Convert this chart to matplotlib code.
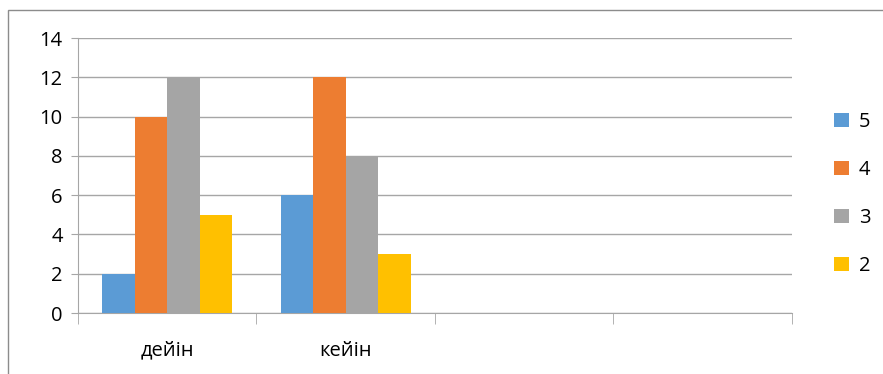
import matplotlib
import matplotlib.pyplot as plt
import numpy as np
from matplotlib.patches import Rectangle

matplotlib.use("Agg")

categories = ["дейін", "кейін", "", ""]
series_labels = ["5", "4", "3", "2"]
series_values = [
    [2, 6, None, None],
    [10, 12, None, None],
    [12, 8, None, None],
    [5, 3, None, None],
]
colors = ["#5B9BD5", "#ED7D31", "#A5A5A5", "#FFC000"]

plt.rcParams["font.family"] = ["Open Sans", "DejaVu Sans"]

fig = plt.figure(figsize=(8.83, 3.74), dpi=100)
ax = fig.add_axes([0.0883, 0.163, 0.8086, 0.735])

# outer chart frame
fig.patches.append(Rectangle((8 / 883, -0.01), 1.0, 1 - 10 / 374 + 0.01,
                             transform=fig.transFigure, fill=False,
                             edgecolor="#8C8C8C", linewidth=1.0))

n = len(series_labels)
width = 0.182
x = np.arange(len(categories))
for i, (lab, vals, col) in enumerate(zip(series_labels, series_values, colors)):
    offs = (i - (n - 1) / 2) * width
    xs = [xi + offs for xi, v in zip(x, vals) if v is not None]
    ys = [v for v in vals if v is not None]
    ax.bar(xs, ys, width, color=col, label=lab, zorder=3)

ax.set_xlim(-0.5, len(categories) - 0.5)
ax.set_ylim(0, 14)
ax.set_yticks(range(0, 15, 2))
ax.grid(axis="y", color="#A6A6A6", linewidth=1.0, zorder=0)

ax.set_xticks(x)
ax.set_xticklabels(categories, fontsize=14.5)
ax.tick_params(axis="x", length=0, pad=20)
ax.set_xticks(np.arange(len(categories) + 1) - 0.5, minor=True)
ax.tick_params(axis="x", which="minor", length=8, color="#A6A6A6")
ax.tick_params(axis="y", length=5, color="#A6A6A6", labelsize=14.5, pad=6)

for s in ("top", "right"):
    ax.spines[s].set_visible(False)
for s in ("left", "bottom"):
    ax.spines[s].set_color("#A6A6A6")

ax.legend(loc="center left", bbox_to_anchor=(1.059, 0.433), frameon=False,
          fontsize=14.5, handlelength=0.72, handleheight=0.72,
          labelspacing=1.4, handletextpad=0.5,
          borderpad=0, borderaxespad=0)

fig.savefig("out.png", dpi=100)
